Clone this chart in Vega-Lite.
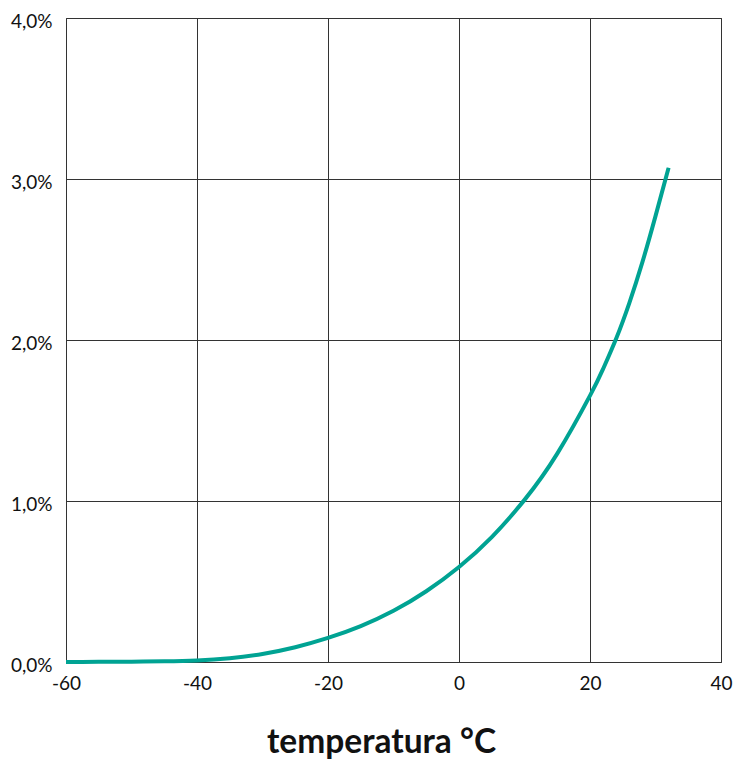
{
  "$schema": "https://vega.github.io/schema/vega-lite/v6.json",
  "width": 655,
  "height": 644,
  "autosize": {"type": "none"},
  "padding": {"left": 66, "top": 18, "right": 13, "bottom": 100},
  "background": "white",
  "config": {
    "view": {"stroke": "#333333", "strokeWidth": 1},
    "font": "Lato"
  },
  "data": {
    "values": [
      {"t": -60, "v": 0.0005},
      {"t": -55, "v": 0.001},
      {"t": -50, "v": 0.002},
      {"t": -45, "v": 0.004},
      {"t": -40, "v": 0.009},
      {"t": -35, "v": 0.023},
      {"t": -30, "v": 0.05},
      {"t": -25, "v": 0.092},
      {"t": -20, "v": 0.1495},
      {"t": -15, "v": 0.223},
      {"t": -10, "v": 0.318},
      {"t": -5, "v": 0.4395},
      {"t": 0, "v": 0.59},
      {"t": 5, "v": 0.776},
      {"t": 10, "v": 1.007},
      {"t": 15, "v": 1.2945},
      {"t": 20, "v": 1.6545},
      {"t": 22, "v": 1.8205},
      {"t": 24, "v": 2.0095},
      {"t": 26, "v": 2.2295},
      {"t": 28, "v": 2.4835},
      {"t": 30, "v": 2.7695},
      {"t": 32, "v": 3.0695}
    ]
  },
  "mark": {"type": "line", "color": "#00a393", "strokeWidth": 4, "interpolate": "natural", "clip": false},
  "encoding": {
    "x": {
      "field": "t", "type": "quantitative",
      "scale": {"domain": [-60, 40], "nice": false, "zero": false},
      "axis": {
        "values": [-60, -40, -20, 0, 20, 40],
        "labelExpr": "datum.value + ''",
        "labelFlush": false, "labelOverlap": false,
        "grid": true, "gridColor": "#333333", "gridOpacity": 1, "gridWidth": 1,
        "domain": false, "ticks": false,
        "labelFont": "Lato", "labelFontSize": 19, "labelColor": "#111111", "labelPadding": 12,
        "title": "temperatura °C", "titleFont": "Lato", "titleFontSize": 33.5, "titleFontWeight": "bold",
        "titleColor": "#111111", "titlePadding": 33, "titleX": 315
      }
    },
    "y": {
      "field": "v", "type": "quantitative",
      "scale": {"domain": [0, 4], "nice": false},
      "axis": {
        "values": [0, 1, 2, 3, 4],
        "labelExpr": "replace(format(datum.value, '.1f'), '.', ',') + '%'",
        "labelFlush": false, "labelOverlap": false, "labelOffset": 3,
        "grid": true, "gridColor": "#333333", "gridOpacity": 1, "gridWidth": 1,
        "domain": false, "ticks": false,
        "labelFont": "Lato", "labelFontSize": 19, "labelColor": "#111111", "labelPadding": 14,
        "title": null
      }
    }
  }
}
